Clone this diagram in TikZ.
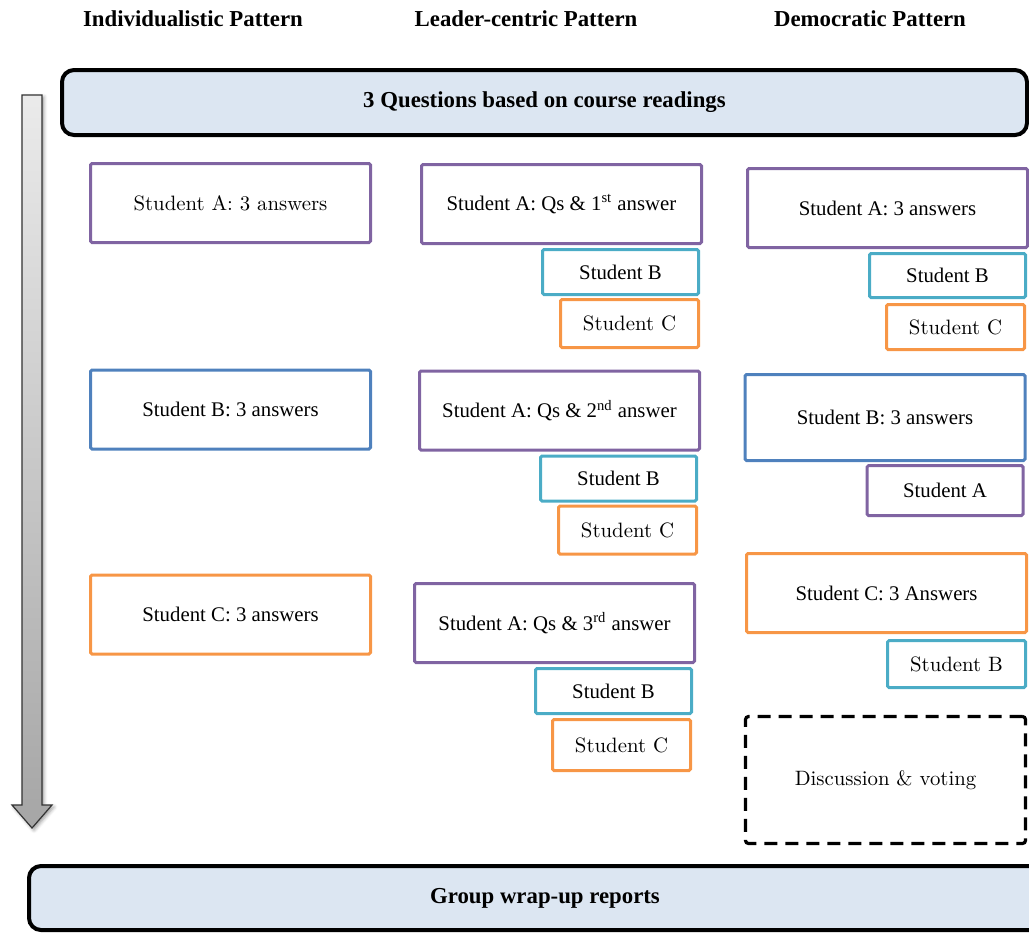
\documentclass[tikz,border=0pt]{standalone}
\usepackage{fontspec}
\usepackage{tikz}
\usetikzlibrary{positioning, shadows.blur}
\newfontfamily\tnr{Liberation Serif}
\definecolor{purplebox}{HTML}{8064A2}
\definecolor{bluebox}{HTML}{4F81BD}
\definecolor{tealbox}{HTML}{4BACC6}
\definecolor{orangebox}{HTML}{F79646}
\definecolor{bandfill}{HTML}{DCE6F2}

\begin{document}
\begin{tikzpicture}[
    x=0.5pt, y=-0.5pt,
    font=\fontsize{10.4}{12}\selectfont,
    headtext/.style={font=\tnr\bfseries\fontsize{11.4}{13}\selectfont},
    band/.style={
        rectangle, draw, line width=2pt, rounded corners=6pt,
        fill=bandfill, inner sep=0pt,
        font=\tnr\bfseries\fontsize{11.4}{13}\selectfont
    },
    bigbox/.style={
        rectangle, draw, line width=1.5pt, rounded corners=0.8pt,
        minimum width=140pt, minimum height=39.5pt,
        inner sep=0pt, align=center
    },
    subbox/.style={
        rectangle, draw, line width=1.5pt, rounded corners=0.8pt,
        minimum width=78pt, minimum height=22.5pt, inner sep=0pt
    },
    smallbox/.style={
        rectangle, draw, line width=1.5pt, rounded corners=0.8pt,
        minimum width=69pt, minimum height=24pt, inner sep=0pt
    },
    votebox/.style={
        rectangle, draw, line width=1.6pt, rounded corners=1.5pt,
        dash pattern=on 6.5pt off 4pt,
        minimum width=140pt, minimum height=63.5pt, inner sep=0pt
    },
    tnrtext/.style={font=\tnr\fontsize{10.4}{12}\selectfont}
]
\useasboundingbox (0,0) rectangle (1029,934);

% Column headings
\node[headtext] (hind) at (193,19) {Individualistic Pattern};
\node[headtext] (hlead) at (526,19) {Leader-centric Pattern};
\node[headtext] (hdem) at (870,19) {Democratic Pattern};

% Top and bottom bands
\node[band, minimum width=482.5pt, minimum height=32.5pt] (questions) at (544.5,102.5)
    {3 Questions based on course readings};
\node[band, minimum width=516pt, minimum height=32pt] (wrapup) at (545,898)
    {Group wrap-up reports};

% Time arrow
\path[draw=black!80, line width=0.6pt, top color=black!8, bottom color=black!35,
      blur shadow={shadow xshift=1pt, shadow yshift=-1pt, shadow blur steps=4}]
    (22,95) -- (42,95) -- (42,805) -- (52,805) -- (32,828) -- (12,805) -- (22,805) -- cycle;

% Individualistic pattern
\node[bigbox, draw=purplebox] (ia) at (230.5,203) {Student A: 3 answers};
\node[bigbox, draw=bluebox, tnrtext] (ib) at (230.5,409.5) {Student B: 3 answers};
\node[bigbox, draw=orangebox, tnrtext] (ic) at (230.5,614.5) {Student C: 3 answers};

% Leader-centric pattern
\node[bigbox, draw=purplebox, tnrtext] (la1) at (561.5,204)
    {Student A: Qs \& 1\textsuperscript{st} answer};
\node[subbox, draw=tealbox, tnrtext, below left=1.5pt and 1.5pt of la1.south east] (lb1) {Student B};
\node[smallbox, draw=orangebox, below left=1pt and 0pt of lb1.south east] (lc1) {Student C};

\node[bigbox, draw=purplebox, tnrtext] (la2) at (559.5,410.5)
    {Student A: Qs \& 2\textsuperscript{nd} answer};
\node[subbox, draw=tealbox, tnrtext, below left=1.5pt and 1.5pt of la2.south east] (lb2) {Student B};
\node[smallbox, draw=orangebox, below left=1pt and 0pt of lb2.south east] (lc2) {Student C};

\node[bigbox, draw=purplebox, tnrtext] (la3) at (554.5,623)
    {Student A: Qs \& 3\textsuperscript{rd} answer};
\node[subbox, draw=tealbox, tnrtext, below left=1.5pt and 1.5pt of la3.south east] (lb3) {Student B};
\node[smallbox, draw=orangebox, minimum height=25.5pt, below left=1.5pt and 0.5pt of lb3.south east] (lc3) {Student C};

% Democratic pattern
\node[bigbox, draw=purplebox, tnrtext] (da) at (887.5,208) {Student A: 3 answers};
\node[subbox, draw=tealbox, tnrtext, minimum height=22pt, below left=1.5pt and 1pt of da.south east] (db1) {Student B};
\node[smallbox, draw=orangebox, minimum height=22.5pt, below left=2pt and 0.5pt of db1.south east] (dc1) {Student C};

\node[bigbox, draw=bluebox, tnrtext, minimum height=43pt] (db) at (885,417.5) {Student B: 3 answers};
\node[subbox, draw=purplebox, tnrtext, minimum height=25pt, below left=1pt and 1pt of db.south east] (da2) {Student A};

\node[bigbox, draw=orangebox, tnrtext] (dc) at (886.5,593) {Student C: 3 Answers};
\node[smallbox, draw=tealbox, minimum height=23.5pt, below left=2.5pt and 0.5pt of dc.south east] (db2) {Student B};

\node[votebox] (vote) at (885.5,780) {Discussion \& voting};

\end{tikzpicture}
\end{document}
